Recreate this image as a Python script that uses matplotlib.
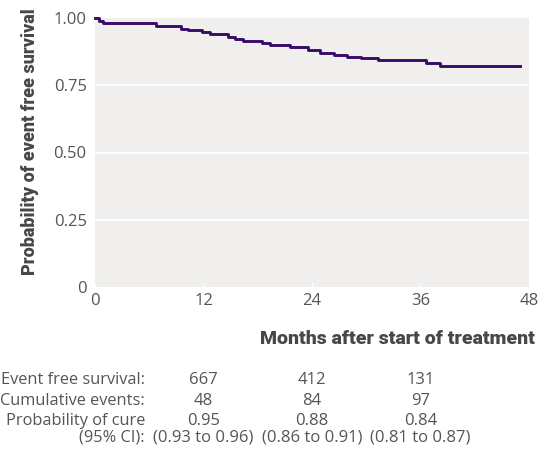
import matplotlib
matplotlib.use("Agg")
import matplotlib.pyplot as plt
import matplotlib.transforms as mtransforms

# Kaplan-Meier style event free survival
months = [0, 0.4, 0.9, 6.8, 9.5, 10.3, 11.8, 12.7, 14.7, 15.5, 16.4, 18.5,
          19.4, 21.6, 23.6, 24.9, 26.4, 27.9, 29.4, 31.3, 36.6, 38.2, 47.0]
survival = [1.0, 0.99, 0.980, 0.972, 0.960, 0.955, 0.948, 0.939, 0.931,
            0.921, 0.916, 0.908, 0.900, 0.891, 0.881, 0.871, 0.862, 0.856,
            0.851, 0.844, 0.832, 0.823, 0.823]

x_ticks = [0, 12, 24, 36, 48]
y_ticks = [0, 0.25, 0.5, 0.75, 1.0]
y_ticklabels = ["0", "0.25", "0.50", "0.75", "1.00"]

# risk table below the plot
table_months = [12, 24, 36]
event_free = ["667", "412", "131"]
cum_events = ["48", "84", "97"]
prob_cure = ["0.95", "0.88", "0.84"]
prob_ci = ["(0.93 to 0.96)", "(0.86 to 0.91)", "(0.81 to 0.87)"]

line_col = "#3a0c6a"
bg_col = "#f0efed"
txt_col = "#555555"
bold_col = "#4a4644"
base_font = ["Open Sans", "DejaVu Sans"]
bold_font = ["Roboto", "DejaVu Sans"]

fig = plt.figure(figsize=(5.49, 4.70), dpi=100)
ax = fig.add_axes([95 / 549, 183 / 470, 434 / 549, 269 / 470])
ax.set_facecolor(bg_col)

ax.plot(months, survival, drawstyle="steps-post", color=line_col,
        linewidth=2.1, clip_on=False, zorder=3)

ax.set_xlim(0, 48)
ax.set_ylim(0, 1.0)
ax.set_xticks(x_ticks)
ax.set_yticks(y_ticks)
ax.set_yticklabels(y_ticklabels)
for spine in ax.spines.values():
    spine.set_visible(False)
for y in [0.25, 0.5, 0.75]:
    ax.axhline(y, color="white", linewidth=1.3, zorder=1)
ax.tick_params(axis="x", direction="in", length=3, color="white", width=1,
               pad=4, labelsize=12, labelcolor=txt_col)
ax.tick_params(axis="y", length=0, pad=6, labelsize=12, labelcolor=txt_col)
for lab in ax.get_xticklabels() + ax.get_yticklabels():
    lab.set_family(base_font)

fig.text(30 / 549, 1 - 142 / 470, "Probability of event free survival",
         rotation=90, ha="center", va="center", fontsize=13,
         fontweight="heavy", color=bold_col, family=bold_font)
fig.text(535 / 549, 1 - 339 / 470, "Months after start of treatment",
         ha="right", va="center", fontsize=14, fontweight="heavy",
         color=bold_col, family=bold_font)

trans = mtransforms.blended_transform_factory(ax.transData, fig.transFigure)
rows = [
    ("Event free survival:", event_free, 380),
    ("Cumulative events:", cum_events, 401),
    ("Probability of cure", prob_cure, 421),
    ("(95% CI):", prob_ci, 438),
]
for label, vals, ypix in rows:
    yf = 1 - ypix / 470
    fig.text(145 / 549, yf, label, ha="right", va="center", fontsize=11.8,
             color=txt_col, family=base_font)
    for m, v in zip(table_months, vals):
        ax.text(m, yf, v, transform=trans, ha="center", va="center",
                fontsize=12, color=txt_col, family=base_font, clip_on=False)

fig.savefig("out.png", dpi=100)
